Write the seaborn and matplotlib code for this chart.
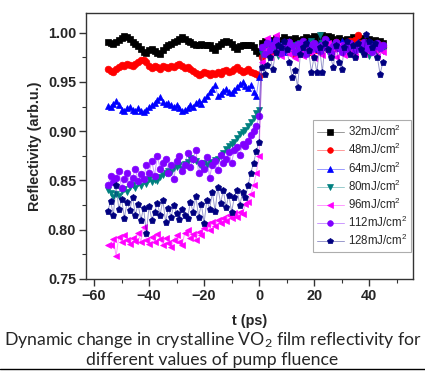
import matplotlib
matplotlib.use("Agg")
import matplotlib.pyplot as plt
import seaborn as sns
import numpy as np
import pandas as pd
from matplotlib.lines import Line2D
from matplotlib.ticker import MultipleLocator
from matplotlib.colors import to_rgba

# time axis (ps): -55 .. 45 in 1 ps steps
t_ps = list(range(-55, 46))

labels = ["32mJ/cm$\\mathregular{^2}$", "48mJ/cm$\\mathregular{^2}$", "64mJ/cm$\\mathregular{^2}$",
          "80mJ/cm$\\mathregular{^2}$", "96mJ/cm$\\mathregular{^2}$", "112mJ/cm$\\mathregular{^2}$",
          "128mJ/cm$\\mathregular{^2}$"]

# reflectivity, pre (-55..0) + post (1..45)
r32 = [.991, .990, .989, .991, .993, .995, .997, .996, .994, .991, .989, .986, .983, .980, .979, .982,
       .983, .981, .979, .978, .982, .985, .987, .989, .991, .992, .994, .996, .994, .992, .991, .989,
       .988, .987, .989, .988, .988, .987, .984, .982, .986, .989, .991, .992, .991, .989, .985, .983,
       .986, .988, .988, .987, .988, .985, .981, .979,
       .990, .992, .988, .993, .991, .995, .990, .993, .996, .992, .994, .991, .995, .993, .990, .994,
       .996, .993, .995, .997, .994, .996, .998, .995, .997, .996, .994, .992, .995, .993, .990, .994,
       .992, .996, .993, .991, .995, .992, .990, .994, .991, .993, .989, .992, .990]
r48 = [.963, .961, .960, .963, .965, .967, .966, .968, .967, .966, .968, .970, .972, .972, .970, .966,
       .964, .966, .965, .963, .966, .965, .964, .966, .965, .967, .968, .966, .964, .965, .963, .961,
       .959, .957, .958, .960, .959, .957, .959, .958, .960, .958, .961, .962, .960, .961, .963, .965,
       .962, .960, .961, .963, .960, .959, .958, .956,
       .975, .982, .978, .985, .980, .988, .983, .979, .986, .990, .984, .981, .977, .985, .989, .983,
       .987, .980, .984, .988, .982, .986, .990, .985, .983, .988, .984, .991, .986, .982, .989, .985,
       .992, .987, .993, .998, .990, .986, .984, .988, .985, .989, .983, .987, .985]
r64 = [.926, .925, .928, .931, .927, .922, .921, .924, .925, .922, .921, .924, .921, .920, .922, .925,
       .927, .929, .932, .935, .930, .928, .929, .927, .925, .927, .924, .921, .922, .924, .927, .925,
       .929, .931, .928, .933, .936, .940, .943, .947, .936, .938, .941, .943, .940, .939, .942, .945,
       .948, .950, .946, .944, .947, .940, .936, .955,
       .985, .990, .982, .993, .987, .984, .991, .988, .980, .986, .992, .985, .989, .983, .990, .987,
       .984, .992, .986, .989, .983, .991, .988, .985, .993, .987, .990, .984, .988, .992, .986, .983,
       .990, .987, .985, .991, .988, .984, .989, .986, .990, .983, .987, .985, .988]
r80 = [.840, .837, .833, .836, .834, .839, .841, .838, .843, .845, .842, .847, .844, .849, .846, .851,
       .848, .850, .849, .854, .856, .858, .860, .859, .863, .864, .866, .862, .867, .869, .873, .871,
       .870, .867, .865, .868, .866, .869, .866, .871, .872, .875, .878, .882, .885, .887, .889, .893,
       .897, .899, .901, .905, .909, .913, .918, .922,
       .978, .985, .980, .988, .983, .990, .976, .986, .982, .989, .984, .979, .987, .983, .990, .985,
       .981, .988, .992, .986, .983, .998, .990, .985, .980, .987, .983, .989, .984, .980, .986, .982,
       .988, .984, .978, .985, .981, .987, .983, .976, .982, .986, .980, .984, .981]
r96 = [.785, .784, .791, .773, .793, .788, .795, .790, .786, .792, .789, .797, .788, .803, .790, .786,
       .793, .788, .796, .791, .785, .792, .787, .782, .790, .795, .788, .785, .797, .800, .792, .796,
       .790, .798, .795, .802, .806, .800, .808, .804, .810, .807, .812, .809, .815, .812, .817, .813,
       .818, .816, .826, .828, .836, .845, .858, .875,
       .970, .982, .995, .975, .988, .998, .980, .976, .985, .990, .978, .983, .974, .987, .980, .976,
       .984, .989, .979, .974, .986, .981, .977, .985, .990, .979, .983, .975, .988, .982, .977, .986,
       .980, .984, .976, .989, .983, .978, .985, .980, .987, .982, .976, .984, .980]
r112 = [.845, .855, .848, .853, .860, .842, .851, .858, .846, .853, .862, .849, .857, .852, .866, .858,
        .870, .855, .875, .862, .868, .872, .858, .866, .851, .870, .875, .860, .866, .878, .864, .872,
        .881, .858, .868, .862, .874, .853, .866, .870, .861, .876, .868, .872, .879, .868, .881, .884,
        .876, .887, .885, .890, .896, .900, .905, .915,
        .985, .978, .990, .982, .987, .993, .984, .979, .988, .983, .991, .986, .980, .989, .984, .992,
        .978, .987, .983, .990, .985, .981, .988, .994, .983, .979, .986, .991, .984, .980, .988, .983,
        .990, .986, .982, .989, .985, .991, .983, .987, .980, .986, .990, .984, .988]
r128 = [.819, .829, .815, .845, .821, .831, .812, .828, .820, .833, .815, .826, .810, .822, .797, .824,
        .810, .818, .827, .815, .830, .808, .822, .813, .825, .817, .811, .821, .815, .812, .828, .818,
        .834, .813, .826, .807, .830, .821, .838, .819, .843, .827, .840, .823, .835, .818, .833, .840,
        .825, .838, .833, .845, .858, .868, .880, .889,
        .965, .958, .967, .975, .963, .980, .988, .985, .992, .983, .970, .955, .962, .945, .978, .985,
        .990, .982, .960, .975, .960, .985, .960, .990, .983, .975, .965, .988, .970, .963, .985, .992,
        .978, .988, .975, .990, .983, .978, .999, .992, .985, .990, .975, .958, .970]

series = [r32, r48, r64, r80, r96, r112, r128]
colors = ["#000000", "#FF0000", "#0000FF", "#008080", "#FF00FF", "#8000FF", "#000080"]
markers = ["s", "o", "^", "v", "<", "o", "p"]

sns.set_style("white")
plt.rcParams['font.family'] = ['Liberation Sans', 'DejaVu Sans']

fig = plt.figure(figsize=(4.25, 3.71), dpi=100)
ax = fig.add_axes([0.202, 0.248, 0.770, 0.717])

for vals, lbl, c, m in zip(series, labels, colors, markers):
    df = pd.DataFrame({"t": t_ps, "R": vals})
    sns.lineplot(data=df, x="t", y="R", ax=ax, label=lbl,
                 color=to_rgba(c, 0.4), linewidth=0.7,
                 marker=m, markersize=4.8,
                 markerfacecolor=c, markeredgecolor=c, markeredgewidth=0.5)

ax.set_xlim(-63, 56)
ax.xaxis.set_major_locator(MultipleLocator(20))
ax.xaxis.set_minor_locator(MultipleLocator(10))
yticks = [0.75, 0.80, 0.85, 0.90, 0.95, 1.00]
ax.set_yticks(yticks)
ax.set_yticklabels([f"{v:.2f}" for v in yticks])
ax.yaxis.set_minor_locator(MultipleLocator(0.025))
ax.set_ylim(0.75, 1.02)
ax.tick_params(which="major", direction="out", length=5, width=1, color="#333333",
               labelsize=10.4, pad=2, bottom=True, left=True)
ax.tick_params(which="minor", direction="out", length=3, width=0.8, color="#333333",
               bottom=True, left=True)
for lab in ax.get_xticklabels() + ax.get_yticklabels():
    lab.set_fontweight("bold")
for sp in ax.spines.values():
    sp.set_color("#333333")
    sp.set_linewidth(1.0)

ax.set_xlabel("t (ps)", fontsize=10.4, fontweight="bold", labelpad=8)
ax.set_ylabel("Reflectivity (arb.u.)", fontsize=10.4, fontweight="bold", labelpad=4)

leg = ax.legend(loc="upper left", bbox_to_anchor=(0.694, 0.598), borderaxespad=0,
                fontsize=8.3, frameon=True, fancybox=False, edgecolor="#999999",
                handlelength=2.3, handletextpad=0.4, labelspacing=0.26, borderpad=0.35,
                markerscale=0.85)
leg.get_frame().set_linewidth(0.8)

fig.text(0.5, 1 - 340 / 371, "Dynamic change in crystalline VO$\\mathregular{_2}$ film reflectivity for",
         ha="center", va="center", fontsize=12.7, family=["Lato", "DejaVu Sans"])
fig.text(0.5, 1 - 360 / 371, "different values of pump fluence",
         ha="center", va="center", fontsize=12.7, family=["Lato", "DejaVu Sans"])
fig.add_artist(Line2D([0, 1], [0.005, 0.005], transform=fig.transFigure, color="black", linewidth=1))

fig.savefig("out.png", dpi=100)
